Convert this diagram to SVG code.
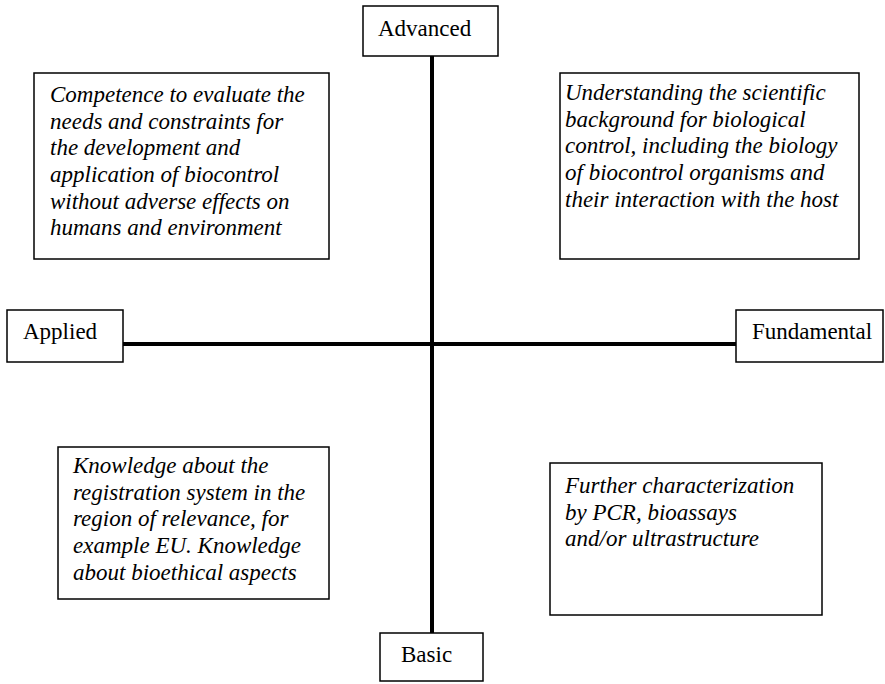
<svg xmlns="http://www.w3.org/2000/svg" width="885" height="684" viewBox="0 0 885 684">
<style>
.box{fill:#fff;stroke:#000;stroke-width:1.5}
text{font-family:'Liberation Serif','Times New Roman',serif;font-size:23px;fill:#000}
.it{font-style:italic}
.axis{stroke:#000;stroke-width:4;fill:none}
</style>
<rect width="885" height="684" fill="#fff"/>
<g id="connectors">
<line class="axis" x1="432" y1="56" x2="432" y2="633"/>
<line class="axis" x1="123" y1="344" x2="736" y2="344"/>
</g>
<g id="advanced"><rect class="box" x="363" y="6" width="135" height="50"/><text x="378" y="36">Advanced</text></g>
<g id="applied"><rect class="box" x="7" y="310" width="116" height="52"/><text x="23" y="339">Applied</text></g>
<g id="fundamental"><rect class="box" x="736" y="310" width="147" height="52"/><text x="752" y="339">Fundamental</text></g>
<g id="basic"><rect class="box" x="380" y="633" width="103" height="48"/><text x="401" y="662">Basic</text></g>
<g id="topleft"><rect class="box" x="34" y="73" width="295" height="186"/>
<text class="it" x="50" y="102">Competence to evaluate the</text>
<text class="it" x="50" y="128.7">needs and constraints for</text>
<text class="it" x="50" y="155.3">the development and</text>
<text class="it" x="50" y="182">application of biocontrol</text>
<text class="it" x="50" y="208.7">without adverse effects on</text>
<text class="it" x="50" y="235.3">humans and environment</text>
</g>
<g id="topright"><rect class="box" x="560" y="73" width="299" height="186"/>
<text class="it" x="565" y="100">Understanding the scientific</text>
<text class="it" x="565" y="126.7">background for biological</text>
<text class="it" x="565" y="153.3">control, including the biology</text>
<text class="it" x="565" y="180">of biocontrol organisms and</text>
<text class="it" x="565" y="206.7">their interaction with the host</text>
</g>
<g id="bottomleft"><rect class="box" x="58" y="447" width="271" height="152"/>
<text class="it" x="73" y="473">Knowledge about the</text>
<text class="it" x="73" y="499.7">registration system in the</text>
<text class="it" x="73" y="526.3">region of relevance, for</text>
<text class="it" x="73" y="553">example EU. Knowledge</text>
<text class="it" x="73" y="579.7">about bioethical aspects</text>
</g>
<g id="bottomright"><rect class="box" x="550" y="463" width="272" height="152"/>
<text class="it" x="565" y="493">Further characterization</text>
<text class="it" x="565" y="519.7">by PCR, bioassays</text>
<text class="it" x="565" y="546.3">and/or ultrastructure</text>
</g>
</svg>
